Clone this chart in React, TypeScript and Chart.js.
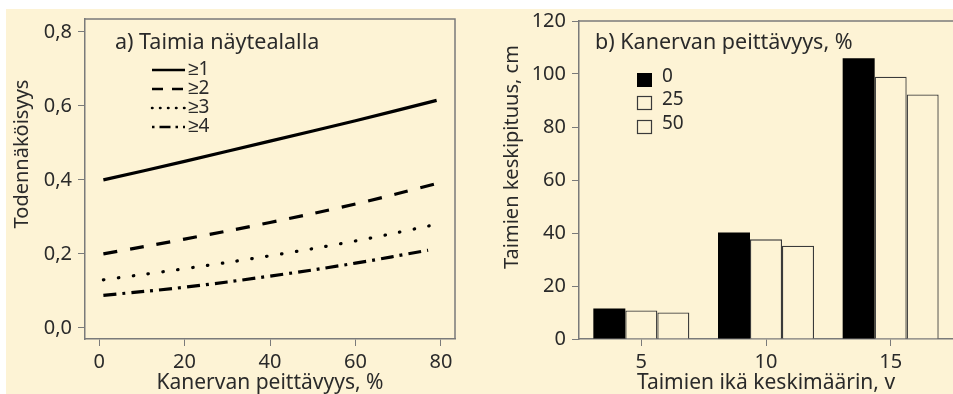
import React, { useEffect, useRef } from "react";
import { Chart, registerables } from "chart.js";
Chart.register(...registerables);

// ---- Data: panel a ----
const coverX = [1, 20, 40, 60, 79];
const coverX4 = [1, 20, 40, 60, 77];
const p1 = [0.4, 0.45, 0.505, 0.56, 0.615];
const p2 = [0.2, 0.24, 0.285, 0.335, 0.39];
const p3 = [0.13, 0.16, 0.195, 0.235, 0.28];
const p4 = [0.088, 0.11, 0.14, 0.175, 0.21];
const lineLabels = ["≥1", "≥2", "≥3", "≥4"];
const xTicksA = [0, 20, 40, 60, 80];
const yTicksA = [0, 0.2, 0.4, 0.6, 0.8];

// ---- Data: panel b ----
const ageCats = ["5", "10", "15"];
const h0 = [11.5, 40.2, 105.9];
const h25 = [10.8, 37.6, 99.0];
const h50 = [10.0, 35.2, 92.3];
const coverLabels = ["0", "25", "50"];
const yTicksB = [0, 20, 40, 60, 80, 100, 120];

const FONT = "'Noto Sans', sans-serif";
const TEXT = "#2a2a2a";
const GRAY = "#7a7a7a";
const BG = "#fdf3d5";

const dashes: number[][] = [[], [14, 13], [0.5, 14.5], [13, 6, 3, 6]];
const caps: CanvasLineCap[] = ["butt", "butt", "round", "butt"];

function App() {
  const refA = useRef<HTMLCanvasElement>(null);
  const refB = useRef<HTMLCanvasElement>(null);

  useEffect(() => {
    const series = [
      { xs: coverX, ys: p1 },
      { xs: coverX, ys: p2 },
      { xs: coverX, ys: p3 },
      { xs: coverX4, ys: p4 },
    ];
    const chartA = new Chart(refA.current!, {
      type: "line",
      data: {
        datasets: series.map((s, i) => ({
          label: lineLabels[i],
          data: s.xs.map((x, j) => ({ x, y: s.ys[j] })),
          borderColor: "#000",
          borderWidth: 3.2,
          borderDash: dashes[i],
          borderCapStyle: caps[i],
          pointRadius: 0,
          tension: 0.4,
          fill: false,
        })),
      },
      options: {
        responsive: false,
        animation: false,
        layout: { padding: { left: 0, top: 19, right: 23, bottom: 0 } },
        plugins: { legend: { display: false }, tooltip: { enabled: false } },
        scales: {
          x: {
            type: "linear",
            min: -3.3,
            max: 83.3,
            afterBuildTicks: (s: any) => {
              s.ticks = xTicksA.map((v) => ({ value: v }));
            },
            afterFit: (s: any) => {
              s.height = 55;
            },
            grid: { drawOnChartArea: false, drawTicks: true, tickLength: 7, color: GRAY },
            border: { display: true, color: GRAY, width: 1.5 },
            ticks: { color: TEXT, font: { size: 20, family: FONT }, padding: 4, maxRotation: 0 },
            title: {
              display: true,
              text: "Kanervan peittävyys, %",
              color: TEXT,
              font: { size: 21, family: FONT, lineHeight: 1.05 },
              padding: { top: 0, bottom: 0 },
            },
          },
          y: {
            type: "linear",
            min: -0.03,
            max: 0.835,
            afterBuildTicks: (s: any) => {
              s.ticks = yTicksA.map((v) => ({ value: v }));
            },
            afterFit: (s: any) => {
              s.width = 85;
            },
            grid: { drawOnChartArea: false, drawTicks: true, tickLength: 7, color: GRAY },
            border: { display: true, color: GRAY, width: 1.5 },
            ticks: {
              color: TEXT,
              font: { size: 20, family: FONT },
              padding: 6,
              callback: (v: any) => Number(v).toFixed(1).replace(".", ","),
            },
          },
        },
      },
      plugins: [
        {
          id: "decorA",
          afterDraw(chart: any) {
            const { ctx, chartArea: a } = chart;
            ctx.save();
            ctx.strokeStyle = GRAY;
            ctx.lineWidth = 1.5;
            ctx.beginPath();
            ctx.moveTo(a.left, a.top);
            ctx.lineTo(a.right, a.top);
            ctx.lineTo(a.right, a.bottom);
            ctx.stroke();
            // y title
            ctx.fillStyle = TEXT;
            ctx.font = `20px ${FONT}`;
            ctx.textAlign = "center";
            ctx.textBaseline = "middle";
            ctx.save();
            ctx.translate(22, 154);
            ctx.rotate(-Math.PI / 2);
            ctx.fillText("Todennäköisyys", 0, 0);
            ctx.restore();
            // legend title
            ctx.textAlign = "left";
            ctx.font = `21.5px ${FONT}`;
            ctx.fillText("a) Taimia näytealalla", a.left + 30, 43);
            // legend entries
            const ys = [70, 89, 108, 127];
            ctx.font = `19px ${FONT}`;
            lineLabels.forEach((lab, i) => {
              ctx.strokeStyle = "#000";
              ctx.lineWidth = 2.5;
              ctx.lineCap = caps[i];
              const d = i === 1 ? [11, 9] : i === 2 ? [0.5, 7.5] : i === 3 ? [2.5, 5, 11, 5] : [];
              ctx.setLineDash(d);
              ctx.beginPath();
              ctx.moveTo(a.left + 67, ys[i]);
              ctx.lineTo(a.left + 100, ys[i]);
              ctx.stroke();
              ctx.setLineDash([]);
              ctx.fillText(lab, a.left + 103, ys[i]);
            });
            ctx.restore();
          },
        },
      ],
    } as any);

    const chartB = new Chart(refB.current!, {
      type: "bar",
      data: {
        labels: ageCats,
        datasets: [
          { label: coverLabels[0], data: h0, backgroundColor: "#000", borderColor: "#000", borderWidth: 0 },
          { label: coverLabels[1], data: h25, backgroundColor: BG, borderColor: "#3a3a3a", borderWidth: 1.3 },
          { label: coverLabels[2], data: h50, backgroundColor: BG, borderColor: "#3a3a3a", borderWidth: 1.3 },
        ],
      },
      options: {
        responsive: false,
        animation: false,
        layout: { padding: { left: 0, top: 21, right: 0, bottom: 0 } },
        plugins: { legend: { display: false }, tooltip: { enabled: false } },
        datasets: { bar: { categoryPercentage: 0.77, barPercentage: 1.0 } },
        scales: {
          x: {
            afterFit: (s: any) => {
              s.height = 55;
            },
            grid: { drawOnChartArea: false, drawTicks: true, tickLength: 7, color: GRAY, offset: false },
            border: { display: true, color: GRAY, width: 1.5 },
            ticks: { color: TEXT, font: { size: 20, family: FONT }, padding: 4 },
            title: {
              display: true,
              text: "Taimien ikä keskimäärin, v",
              color: TEXT,
              font: { size: 21, family: FONT, lineHeight: 1.05 },
              padding: { top: 0, bottom: 0 },
            },
          },
          y: {
            min: 0,
            max: 120,
            afterBuildTicks: (s: any) => {
              s.ticks = yTicksB.map((v) => ({ value: v }));
            },
            afterFit: (s: any) => {
              s.width = 101;
            },
            grid: { drawOnChartArea: false, drawTicks: true, tickLength: 7, color: GRAY },
            border: { display: true, color: GRAY, width: 1.5 },
            ticks: { color: TEXT, font: { size: 20, family: FONT }, padding: 6 },
          },
        },
      },
      plugins: [
        {
          id: "decorB",
          afterDraw(chart: any) {
            const { ctx, chartArea: a } = chart;
            ctx.save();
            ctx.strokeStyle = GRAY;
            ctx.lineWidth = 1.5;
            ctx.beginPath();
            ctx.moveTo(a.left, a.top);
            ctx.lineTo(a.right, a.top);
            ctx.stroke();
            ctx.fillStyle = TEXT;
            ctx.font = `20px ${FONT}`;
            ctx.textAlign = "center";
            ctx.textBaseline = "middle";
            ctx.save();
            ctx.translate(34, 157);
            ctx.rotate(-Math.PI / 2);
            ctx.fillText("Taimien keskipituus, cm", 0, 0);
            ctx.restore();
            ctx.textAlign = "left";
            ctx.font = `21.5px ${FONT}`;
            ctx.fillText("b) Kanervan peittävyys, %", a.left + 16, 43);
            const ys = [80, 103, 127];
            const fills = ["#000", BG, BG];
            ctx.font = `19px ${FONT}`;
            coverLabels.forEach((lab, i) => {
              ctx.fillStyle = fills[i];
              ctx.fillRect(a.left + 58, ys[i] - 7, 15, 14);
              if (i > 0) {
                ctx.strokeStyle = "#3a3a3a";
                ctx.lineWidth = 1.2;
                ctx.strokeRect(a.left + 58.5, ys[i] - 6.5, 14, 13);
              }
              ctx.fillStyle = TEXT;
              ctx.fillText(lab, a.left + 83, ys[i] - 3);
            });
            ctx.restore();
          },
        },
      ],
    } as any);

    return () => {
      chartA.destroy();
      chartB.destroy();
    };
  }, []);

  return (
    <div style={{ position: "fixed", left: 0, top: 0, width: 953, height: 394, background: "#fff", overflow: "hidden" }}>
      <div style={{ position: "absolute", left: 6, top: 9, right: 0, bottom: 0, background: BG }} />
      <canvas ref={refA} width={478} height={394} style={{ position: "absolute", left: 0, top: 0 }} />
      <canvas ref={refB} width={475} height={394} style={{ position: "absolute", left: 478, top: 0 }} />
    </div>
  );
}

export default App;
